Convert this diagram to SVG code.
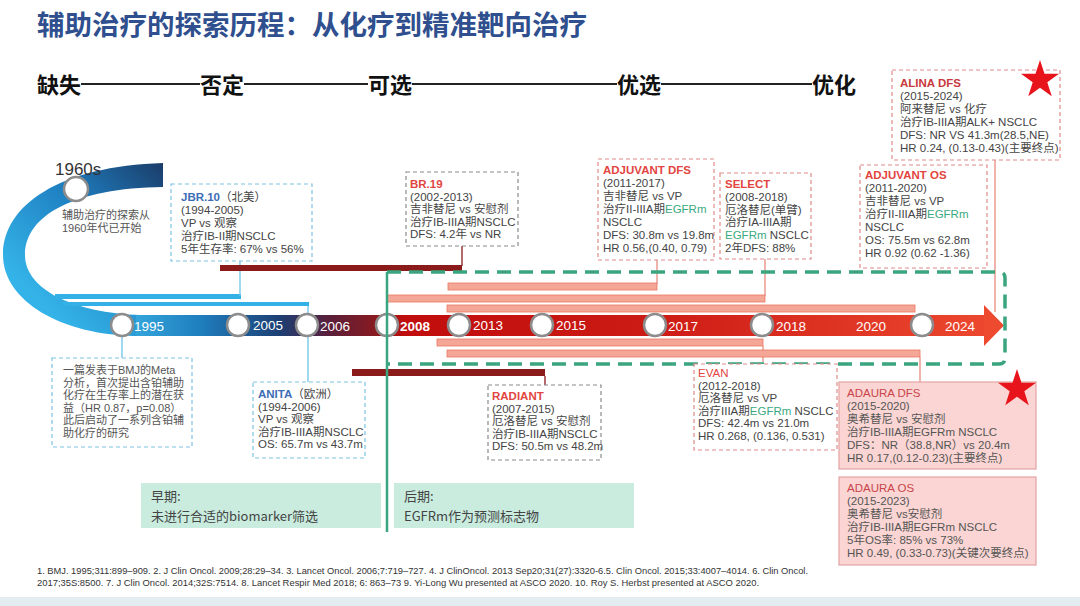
<svg xmlns="http://www.w3.org/2000/svg" width="1080" height="606" viewBox="0 0 1080 606">
<defs>
<style>
text{font-family:"Liberation Sans","Noto Sans CJK SC",sans-serif;}
.cjk{font-family:"Noto Sans CJK SC","Liberation Sans",sans-serif;}
.title{font-size:27.5px;font-weight:bold;fill:#2f4f8e;}
.hdr{font-size:22px;font-weight:bold;fill:#111;}
.hline{stroke:#222;stroke-width:1.8;}
.t{font-size:11.5px;fill:#444;}
.ts{font-size:11px;fill:#555;}
.ad{font-size:11.5px;fill:#555;}
.g{fill:#3aaa80;}
.red{fill:#e2453f;font-weight:bold;}
.blu{fill:#3b6eb5;font-weight:bold;}
.adt{fill:#c9454a;}
.bxb{fill:#fff;stroke:#7cc3e3;stroke-width:1.2;stroke-dasharray:4 3;}
.bxr{fill:#fff;stroke:#e08a8a;stroke-width:1.2;stroke-dasharray:4 3;}
.bxg{fill:#fff;stroke:#8a8a8a;stroke-width:1.2;stroke-dasharray:4 3;}
.bxp{fill:#fad5d3;stroke:#e3a3a3;stroke-width:1.2;}
.bxm{fill:#c9ecdf;}
.yr{font-size:13.5px;fill:#fff;}
.node{fill:#fff;stroke:#8c8c8c;stroke-width:2.5;}
.sal{fill:#f5a797;stroke:#e87763;stroke-width:0.8;}
.mar{fill:#8b1a1a;}
.lb{stroke:#6cc4ea;stroke-width:1.3;fill:none;}
.lr{stroke:#e88a80;stroke-width:1.3;fill:none;}
.lm{stroke:#8b1a1a;stroke-width:1.3;fill:none;}
.fn{font-size:8.7px;fill:#333;}
</style>
<linearGradient id="tl" gradientUnits="userSpaceOnUse" x1="110" y1="0" x2="1004" y2="0">
<stop offset="0" stop-color="#3cb4e6"/>
<stop offset="0.1" stop-color="#1f7fbf"/>
<stop offset="0.19" stop-color="#1d3f73"/>
<stop offset="0.245" stop-color="#5a1f3a"/>
<stop offset="0.3" stop-color="#8b1a1f"/>
<stop offset="0.33" stop-color="#c00d0d"/>
<stop offset="0.6" stop-color="#cc1a14"/>
<stop offset="1" stop-color="#ee4a30"/>
</linearGradient>
<linearGradient id="sw" gradientUnits="userSpaceOnUse" x1="165" y1="170" x2="40" y2="300">
<stop offset="0" stop-color="#1b3f6c"/>
<stop offset="0.45" stop-color="#1e7ec0"/>
<stop offset="1" stop-color="#34b3e8"/>
</linearGradient>
<polygon id="star" points="0,-20 4.51,-6.2 19.02,-6.18 7.29,2.37 11.76,16.18 0,7.66 -11.76,16.18 -7.29,2.37 -19.02,-6.18 -4.51,-6.2" fill="#e8141b"/>
</defs>
<rect width="1080" height="606" fill="#fff"/>
<rect x="0" y="597" width="1080" height="9" fill="#e3ecf0"/>

<g id="title">
<text class="title cjk" x="37" y="35">辅助治疗的探索历程：从化疗到精准靶向治疗</text>
</g>

<g id="header">
<text class="hdr cjk" x="37" y="93">缺失</text>
<line class="hline" x1="81" y1="84" x2="200" y2="84"/>
<text class="hdr cjk" x="200" y="93">否定</text>
<line class="hline" x1="244" y1="84" x2="368" y2="84"/>
<text class="hdr cjk" x="368" y="93">可选</text>
<line class="hline" x1="412" y1="84" x2="617" y2="84"/>
<text class="hdr cjk" x="617" y="93">优选</text>
<line class="hline" x1="661" y1="84" x2="812" y2="84"/>
<text class="hdr cjk" x="812" y="93">优化</text>
</g>

<g id="swoosh">
<path d="M163,163 C60,166 3,205 3,255 C3,300 60,336 140,336 L140,315 C75,313 25,290 25,255 C25,215 75,188 163,187 Z" fill="url(#sw)"/>
<rect x="55" y="294" width="186" height="5" fill="#33b0e6"/>
<rect x="62" y="302" width="247" height="4" fill="#33b0e6"/>
<circle class="node" cx="76" cy="189" r="12"/>
<text x="55" y="175" font-size="17" fill="#333">1960s</text>
<text class="ts" x="62" y="219">辅助治疗的探索从</text>
<text class="ts" x="62" y="232">1960年代已开始</text>
</g>

<g id="connectors">
<line class="lb" x1="240" y1="261" x2="240" y2="296"/>
<line class="lb" x1="122" y1="336" x2="122" y2="358"/>
<line class="lb" x1="308" y1="306" x2="308" y2="382"/>
<rect class="mar" x="220" y="265" width="242" height="6"/>
<line class="lm" x1="462" y1="246" x2="462" y2="266"/>
<rect class="mar" x="352" y="369" width="193" height="7"/>
<line class="lm" x1="545" y1="376" x2="545" y2="385"/>
<rect class="sal" x="448" y="283" width="209" height="7"/>
<line class="lr" x1="657" y1="260" x2="657" y2="284"/>
<rect class="sal" x="387" y="295" width="378" height="7"/>
<line class="lr" x1="765" y1="259" x2="765" y2="296"/>
<rect class="sal" x="447" y="305" width="468" height="7"/>
<line class="lr" x1="995" y1="160" x2="995" y2="312"/>
<rect class="sal" x="437" y="339" width="326" height="7"/>
<line class="lr" x1="763" y1="346" x2="763" y2="362"/>
<rect class="sal" x="447" y="350" width="473" height="7"/>
<line class="lr" x1="920" y1="357" x2="920" y2="382"/>
</g>

<g id="timeline">
<rect x="136" y="315" width="850" height="21" fill="url(#tl)"/>
<polygon points="984,305 1004,325.5 984,346" fill="#ee4a30"/>
<circle class="node" cx="122" cy="325" r="11"/>
<circle class="node" cx="238" cy="325" r="11"/>
<circle class="node" cx="307" cy="325" r="11"/>
<circle class="node" cx="387" cy="325" r="11"/>
<circle class="node" cx="459" cy="325" r="11"/>
<circle class="node" cx="542" cy="325" r="11"/>
<circle class="node" cx="655" cy="325" r="11"/>
<circle class="node" cx="762" cy="325" r="11"/>
<circle class="node" cx="922" cy="325" r="11"/>
<text class="yr" x="134" y="331">1995</text>
<text class="yr" x="253" y="330">2005</text>
<text class="yr" x="320" y="331">2006</text>
<text class="yr" x="400" y="331" font-weight="bold">2008</text>
<text class="yr" x="473" y="330">2013</text>
<text class="yr" x="556" y="330">2015</text>
<text class="yr" x="668" y="331">2017</text>
<text class="yr" x="776" y="331">2018</text>
<text class="yr" x="856" y="331">2020</text>
<text class="yr" x="945" y="331">2024</text>
</g>

<g id="egfr-frame">
<path d="M387,272 L999,272 Q1005,272 1005,278 L1005,358 Q1005,364 999,364 L387,364" fill="none" stroke="#3aa57f" stroke-width="3.5" stroke-dasharray="14 8"/>
<line x1="387" y1="272" x2="387" y2="532" stroke="#3aa57f" stroke-width="2.5"/>
</g>

<g id="jbr10">
<rect class="bxb" x="171" y="184" width="141" height="77"/>
<text class="t" x="181" y="201"><tspan class="blu">JBR.10</tspan>（北美）</text>
<text class="t" x="181" y="214">(1994-2005)</text>
<text class="t" x="181" y="227">VP vs 观察</text>
<text class="t" x="181" y="240">治疗IB-II期NSCLC</text>
<text class="t" x="181" y="253">5年生存率: 67% vs 56%</text>
</g>

<g id="meta">
<rect class="bxb" x="52" y="358" width="140" height="89"/>
<text class="ts" x="63" y="374">一篇发表于BMJ的Meta</text>
<text class="ts" x="63" y="386.5">分析，首次提出含铂辅助</text>
<text class="ts" x="63" y="399">化疗在生存率上的潜在获</text>
<text class="ts" x="63" y="411.5">益（HR 0.87，p=0.08）</text>
<text class="ts" x="63" y="424">此后启动了一系列含铂辅</text>
<text class="ts" x="63" y="436.5">助化疗的研究</text>
</g>

<g id="anita">
<rect class="bxb" x="253" y="382" width="112" height="76"/>
<text class="t" x="258" y="398"><tspan class="blu">ANITA</tspan>（欧洲）</text>
<text class="t" x="258" y="410.5">(1994-2006)</text>
<text class="t" x="258" y="423">VP vs 观察</text>
<text class="t" x="258" y="435.5">治疗IB-IIIA期NSCLC</text>
<text class="t" x="258" y="448">OS: 65.7m vs 43.7m</text>
</g>

<g id="br19">
<rect class="bxg" x="406" y="172" width="112" height="74"/>
<text class="t red" x="410" y="188">BR.19</text>
<text class="t" x="410" y="200.5">(2002-2013)</text>
<text class="t" x="410" y="213">吉非替尼 vs 安慰剂</text>
<text class="t" x="410" y="225.5">治疗IB-IIIA期NSCLC</text>
<text class="t" x="410" y="238">DFS: 4.2年 vs NR</text>
</g>

<g id="radiant">
<rect class="bxg" x="488" y="385" width="113" height="75"/>
<text class="t red" x="492" y="400">RADIANT</text>
<text class="t" x="492" y="412.5">(2007-2015)</text>
<text class="t" x="492" y="425">厄洛替尼 vs 安慰剂</text>
<text class="t" x="492" y="437.5">治疗IB-IIIA期NSCLC</text>
<text class="t" x="492" y="450">DFS: 50.5m vs 48.2m</text>
</g>

<g id="adjuvant-dfs">
<rect class="bxr" x="598" y="159" width="116" height="101"/>
<text class="t red" x="603" y="174">ADJUVANT DFS</text>
<text class="t" x="603" y="187">(2011-2017)</text>
<text class="t" x="603" y="200">吉非替尼 vs VP</text>
<text class="t" x="603" y="213">治疗II-IIIA期<tspan class="g">EGFRm</tspan></text>
<text class="t" x="603" y="226">NSCLC</text>
<text class="t" x="603" y="239">DFS: 30.8m vs 19.8m</text>
<text class="t" x="603" y="252">HR 0.56,(0.40, 0.79)</text>
</g>

<g id="select">
<rect class="bxr" x="720" y="173" width="91" height="86"/>
<text class="t red" x="725" y="188">SELECT</text>
<text class="t" x="725" y="201">(2008-2018)</text>
<text class="t" x="725" y="213.5">厄洛替尼(单臂)</text>
<text class="t" x="725" y="226">治疗IA-IIIA期</text>
<text class="t" x="725" y="239"><tspan class="g">EGFRm</tspan> NSCLC</text>
<text class="t" x="725" y="251.5">2年DFS: 88%</text>
</g>

<g id="alina-dfs">
<rect class="bxr" x="892" y="70" width="168" height="90"/>
<text class="t" x="900" y="87" font-weight="bold" style="fill:#c8383c">ALINA DFS</text>
<text class="t" x="900" y="100">(2015-2024)</text>
<text class="t" x="900" y="113">阿来替尼 vs 化疗</text>
<text class="t" x="900" y="126">治疗IB-IIIA期ALK+ NSCLC</text>
<text class="t" x="900" y="139">DFS: NR VS 41.3m(28.5,NE)</text>
<text class="t" x="900" y="152">HR 0.24, (0.13-0.43)(主要终点)</text>
<use href="#star" x="1040" y="80"/>
</g>

<g id="adjuvant-os">
<rect class="bxr" x="860" y="165" width="127" height="103"/>
<text class="t red" x="865" y="179">ADJUVANT OS</text>
<text class="t" x="865" y="192">(2011-2020)</text>
<text class="t" x="865" y="205">吉非替尼 vs VP</text>
<text class="t" x="865" y="218">治疗II-IIIA期<tspan class="g">EGFRm</tspan></text>
<text class="t" x="865" y="231">NSCLC</text>
<text class="t" x="865" y="244">OS: 75.5m vs 62.8m</text>
<text class="t" x="865" y="257">HR 0.92 (0.62 -1.36)</text>
</g>

<g id="evan">
<rect class="bxr" x="694" y="364" width="143" height="86"/>
<text class="t" x="698" y="377" style="fill:#e2453f">EVAN</text>
<text class="t" x="698" y="389.5">(2012-2018)</text>
<text class="t" x="698" y="402">厄洛替尼 vs VP</text>
<text class="t" x="698" y="414.5">治疗IIIA期<tspan class="g">EGFRm</tspan> NSCLC</text>
<text class="t" x="698" y="427">DFS: 42.4m vs 21.0m</text>
<text class="t" x="698" y="439.5">HR 0.268, (0.136, 0.531)</text>
</g>

<g id="adaura-dfs">
<rect class="bxp" x="839" y="382" width="197" height="87"/>
<text class="ad adt" x="847" y="397">ADAURA DFS</text>
<text class="ad" x="847" y="410">(2015-2020)</text>
<text class="ad" x="847" y="423">奥希替尼 vs 安慰剂</text>
<text class="ad" x="847" y="436">治疗IB-IIIA期EGFRm NSCLC</text>
<text class="ad" x="847" y="449">DFS：NR（38.8,NR）vs 20.4m</text>
<text class="ad" x="847" y="462">HR 0.17,(0.12-0.23)(主要终点)</text>
<use href="#star" x="1017" y="389"/>
</g>

<g id="adaura-os">
<rect class="bxp" x="839" y="477" width="197" height="88"/>
<text class="ad adt" x="847" y="492">ADAURA OS</text>
<text class="ad" x="847" y="505">(2015-2023)</text>
<text class="ad" x="847" y="518">奥希替尼 vs安慰剂</text>
<text class="ad" x="847" y="531">治疗IB-IIIA期EGFRm NSCLC</text>
<text class="ad" x="847" y="544">5年OS率: 85% vs 73%</text>
<text class="ad" x="847" y="557">HR 0.49, (0.33-0.73)(关键次要终点)</text>
</g>

<g id="early">
<rect class="bxm" x="141" y="483" width="240" height="45"/>
<text class="cjk" x="151" y="501" font-size="13" fill="#444">早期:</text>
<text class="cjk" x="151" y="521" font-size="13" fill="#444">未进行合适的biomarker筛选</text>
</g>

<g id="late">
<rect class="bxm" x="394" y="483" width="240" height="45"/>
<text class="cjk" x="404" y="501" font-size="13" fill="#444">后期:</text>
<text class="cjk" x="404" y="521" font-size="13" fill="#444">EGFRm作为预测标志物</text>
</g>

<g id="footnotes">
<text class="fn" x="37" y="574" textLength="771" lengthAdjust="spacingAndGlyphs">1. BMJ. 1995;311:899–909. 2. J Clin Oncol. 2009;28:29–34. 3. Lancet Oncol. 2006;7:719–727. 4. J ClinOncol. 2013 Sep20;31(27):3320-6.5. Clin Oncol. 2015;33:4007–4014. 6. Clin Oncol.</text>
<text class="fn" x="37" y="586" textLength="722" lengthAdjust="spacingAndGlyphs">2017;35S:8500.  7. J Clin Oncol. 2014;32S:7514. 8. Lancet Respir Med 2018; 6: 863–73  9. Yi-Long Wu presented at ASCO 2020. 10. Roy S. Herbst presented at ASCO 2020.</text>
</g>
</svg>
